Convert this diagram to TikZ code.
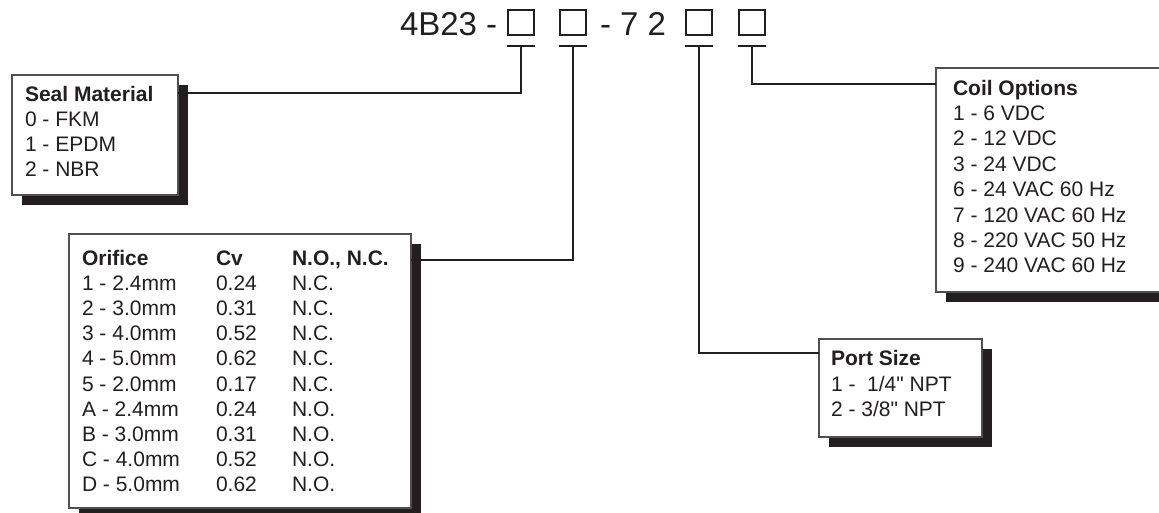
\documentclass[tikz,border=0pt]{standalone}
\usepackage{fontspec}
\setmainfont{Liberation Sans}[Ligatures=TeXOff]
\usetikzlibrary{calc,shadows}
\definecolor{ink}{RGB}{35,31,32}
\definecolor{rim}{RGB}{80,80,80}
\begin{document}
\begin{tikzpicture}[x=1pt,y=-1pt,
  conn/.style={draw=ink,line width=2pt},
  panel/.style={draw=rim,line width=1.2pt,fill=white,anchor=north west,inner sep=0pt,outer sep=0pt,
    general shadow={fill=ink,shadow xshift=10pt,shadow yshift=-10pt}},
  sq/.style={draw=ink,line width=2pt,minimum width=26pt,minimum height=25pt,inner sep=0pt,outer sep=0pt},
  txt/.style={anchor=base west,inner sep=0pt,outer sep=0pt,text=ink,font=\fontsize{21}{25}\selectfont},
  hd/.style={txt,font=\fontsize{21}{25}\selectfont\bfseries},
  ttl/.style={anchor=base west,inner sep=0pt,outer sep=0pt,text=ink,font=\fontsize{33}{33}\selectfont},
]
\useasboundingbox (0,0) rectangle (1159,512);
\clip (0,0) rectangle (1159,512);

% title
\node[ttl] (title1) at (400,35) {4B23 -};
\node[ttl] (title2) at (600,35) {- 7 2};
\node[sq] (s1) at (521,22.5) {};
\node[sq] (s2) at (573,22.5) {};
\node[sq] (s3) at (698.5,22.5) {};
\node[sq] (s4) at (752,22.5) {};

% T bars
\foreach \s in {s1,s2,s3,s4}{
  \draw[conn] ($(\s.south west)+(-1,11)$) -- ($(\s.south east)+(1,11)$);
  \coordinate (\s t) at ($(\s.south)+(0,11)$);
}

% panels
\node[panel,minimum width=166pt,minimum height=120pt] (seal) at (12,75) {};
\node[panel,minimum width=342pt,minimum height=274pt] (orif) at (69,234) {};
\node[panel,minimum width=240pt,minimum height=224pt] (coil) at (936,68) {};
\node[panel,minimum width=163pt,minimum height=98pt] (port) at (819,339) {};

% connectors
\draw[conn] (s1t) |- ($(seal.north east)+(0,18)$);
\draw[conn] (s2t) |- ($(orif.north east)+(0,26)$);
\draw[conn] (s3t) |- ($(port.north west)+(0,14)$);
\draw[conn] (s4t) |- ($(coil.north west)+(0,16)$);

% seal material
\node[hd] (sealh) at (25,101) {Seal Material};
\node[txt] (seal1) at (25,126) {0 - FKM};
\node[txt] (seal2) at (25,151) {1 - EPDM};
\node[txt] (seal3) at (25,176) {2 - NBR};

% orifice
\node[hd] (orh1) at (82,265) {Orifice};
\node[hd] (orh2) at (216,265) {Cv};
\node[hd] (orh3) at (292,265) {N.O., N.C.};
\foreach \a/\b/\c [count=\i] in {1 - 2.4mm/0.24/N.C., 2 - 3.0mm/0.31/N.C., 3 - 4.0mm/0.52/N.C., 4 - 5.0mm/0.62/N.C., 5 - 2.0mm/0.17/N.C., A - 2.4mm/0.24/N.O., B - 3.0mm/0.31/N.O., C - 4.0mm/0.52/N.O., D - 5.0mm/0.62/N.O.}{
  \node[txt] (ora\i) at (82,265+25.2*\i) {\a};
  \node[txt] (orb\i) at (216,265+25.2*\i) {\b};
  \node[txt] (orc\i) at (292,265+25.2*\i) {\c};
}

% coil options
\node[hd] (coilh) at (953,95) {Coil Options};
\foreach \t [count=\i] in {1 - 6 VDC, 2 - 12 VDC, 3 - 24 VDC, 6 - 24 VAC 60 Hz, 7 - 120 VAC 60 Hz, 8 - 220 VAC 50 Hz, 9 - 240 VAC 60 Hz}{
  \node[txt] (coil\i) at (953,95+25.4*\i) {\t};
}

% port size
\node[hd] (porth) at (831,365) {Port Size};
\node[txt] (port1) at (831,391) {1 -\ \ 1/4" NPT};
\node[txt] (port2) at (831,416) {2 - 3/8" NPT};
\end{tikzpicture}
\end{document}
